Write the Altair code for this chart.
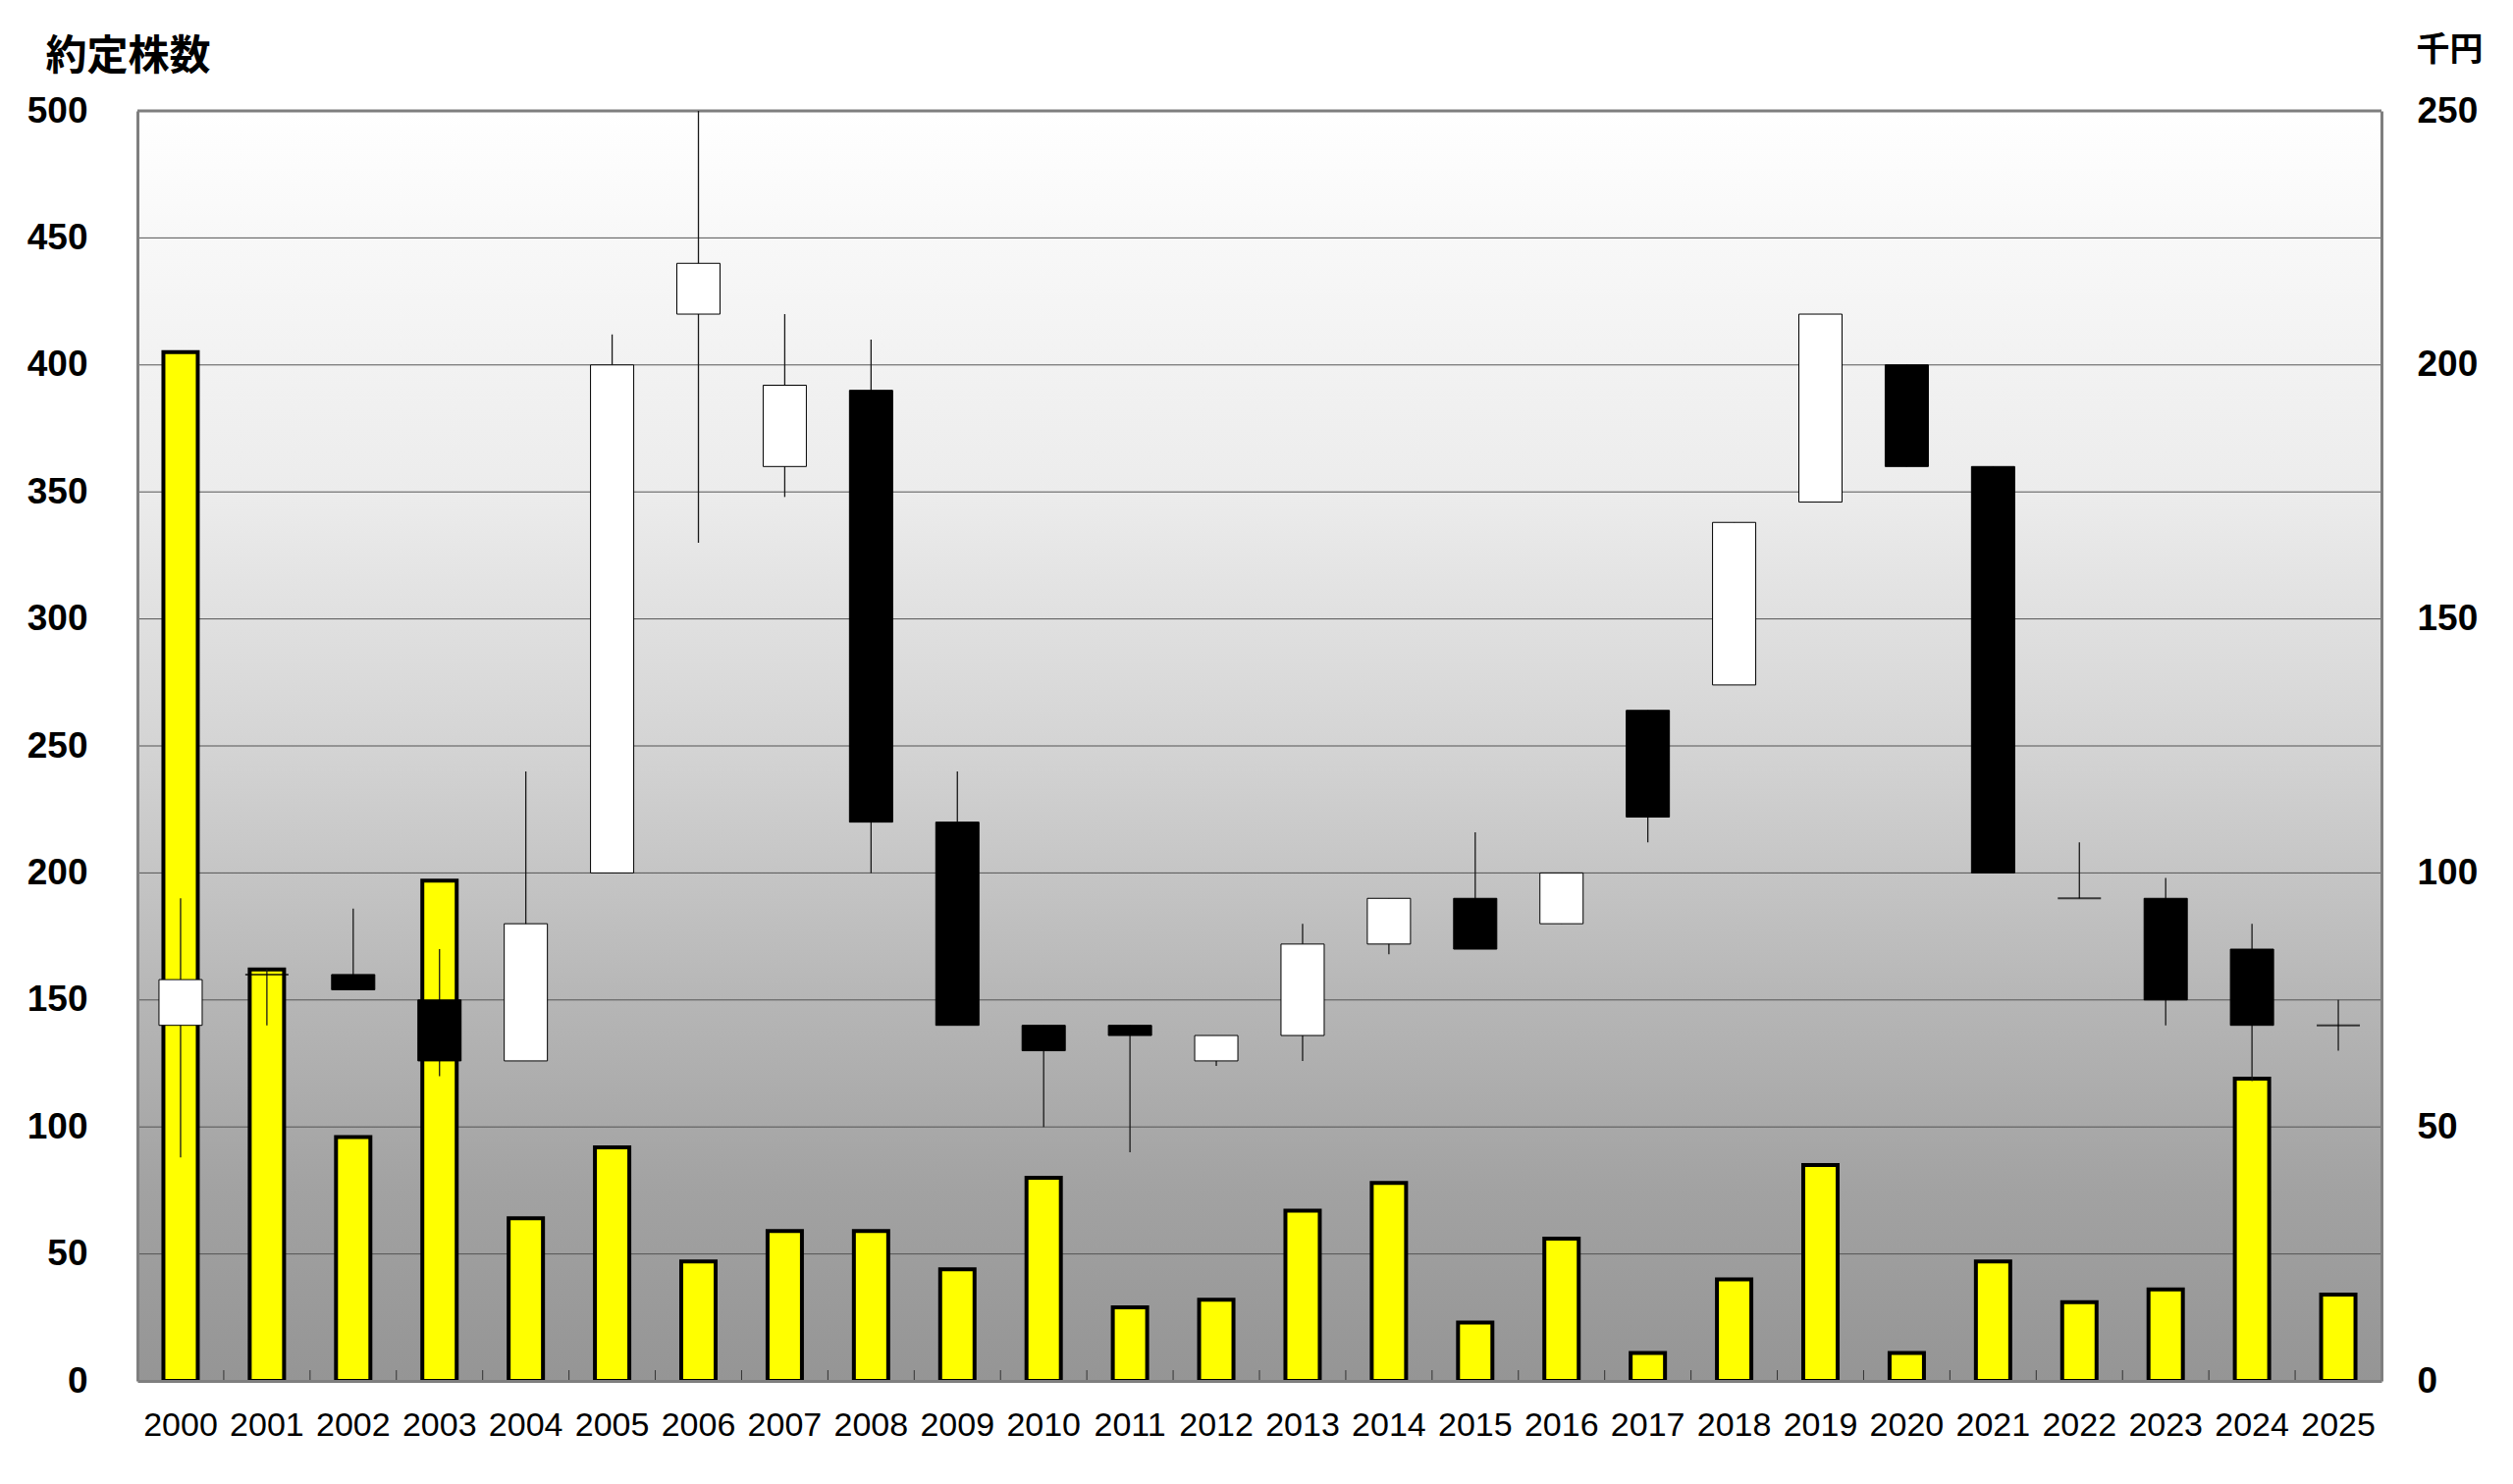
import altair as alt
import pandas as pd

# ---- data ----
years = [str(y) for y in range(2000, 2026)]
volume = [405, 162, 96, 197, 64, 92, 47, 59, 59, 44, 80, 29, 32, 67, 78, 23, 56, 11, 40, 85, 11, 47, 31, 36, 119, 34]
open_p = [70, 80, 80, 75, 63, 100, 210, 180, 195, 110, 70, 70, 63, 68, 86, 95, 90, 132, 137, 173, 200, 180, 95, 95, 85, 70]
close_p = [79, 80, 77, 63, 90, 200, 220, 196, 110, 70, 65, 68, 68, 86, 95, 85, 100, 111, 169, 210, 180, 100, 95, 75, 70, 70]
high_p = [95, 81, 93, 85, 120, 206, 250, 210, 205, 120, 70, 70, 68, 90, 95, 108, 100, 132, 169, 210, 200, 180, 106, 99, 90, 75]
low_p = [44, 70, 77, 60, 63, 100, 165, 174, 100, 70, 50, 45, 62, 63, 84, 85, 90, 106, 137, 173, 180, 100, 95, 70, 59, 65]
vol_ticks = list(range(0, 501, 50))
price_ticks = list(range(0, 251, 50))
grid_values = [50, 100, 150, 200, 250, 300, 350, 400, 450]
top_value = [500]

df = pd.DataFrame({"year": years, "volume": volume, "open": open_p,
                   "close": close_p, "high": high_p, "low": low_p})

W, H = 2286, 1294

vscale = alt.Scale(domain=[0, 500], nice=False, zero=True)
pscale = alt.Scale(domain=[0, 250], nice=False, zero=True)
xscale = alt.Scale(domain=years, paddingInner=0, paddingOuter=0)

x_axis = alt.Axis(orient="bottom", labelAngle=0, labelFont="Liberation Sans",
                  labelFontSize=34, labelColor="black", labelPadding=28,
                  ticks=False, domainColor="#7f7f7f", domainWidth=3, grid=False,
                  zindex=1)


def xenc(**kw):
    return alt.X("year:O", scale=xscale, axis=x_axis, title=None, **kw)


left_axis = alt.Axis(orient="left", values=vol_ticks, grid=False, ticks=False,
                     labelPadding=51, labelFont="Liberation Sans", labelFontSize=37,
                     labelFontWeight="bold", labelColor="black", labelFlush=False,
                     labelOverlap=False, domainColor="#7f7f7f", domainWidth=3,
                     titleAngle=0, titleX=-94, titleY=-43,
                     titleAlign="left", titleBaseline="alphabetic",
                     titleFont="Noto Sans CJK JP", titleFontSize=42,
                     titleFontWeight="bold", titleColor="black", zindex=1)

right_axis = alt.Axis(orient="right", values=price_ticks, grid=False, ticks=False,
                      labelPadding=36, labelFont="Liberation Sans", labelFontSize=37,
                      labelFontWeight="bold", labelColor="black", labelFlush=False,
                      labelOverlap=False, domainColor="#7f7f7f", domainWidth=3,
                      titleAngle=0, titleX=35, titleY=-52,
                      titleAlign="left", titleBaseline="alphabetic",
                      titleFont="Noto Sans CJK JP", titleFontSize=34,
                      titleFontWeight="bold", titleColor="black", zindex=1)

gradient = alt.LinearGradient(
    gradient="linear", x1=0, x2=0, y1=0, y2=1,
    stops=[alt.GradientStop(color="#ffffff", offset=0),
           alt.GradientStop(color="#f8f8f8", offset=0.1),
           alt.GradientStop(color="#ececec", offset=0.3),
           alt.GradientStop(color="#d4d4d4", offset=0.5),
           alt.GradientStop(color="#b6b6b6", offset=0.7),
           alt.GradientStop(color="#a2a2a2", offset=0.85),
           alt.GradientStop(color="#959595", offset=1)])

bg = alt.Chart(pd.DataFrame({"a": [0]})).mark_rect(color=gradient).encode(
    x=alt.value(0), x2=alt.value(W), y=alt.value(0), y2=alt.value(H))

grid = alt.Chart(pd.DataFrame({"v": grid_values})).mark_rule(
    color="#555555", strokeWidth=1).encode(
    y=alt.Y("v:Q", scale=vscale, axis=None))

top_border = alt.Chart(pd.DataFrame({"v": top_value})).mark_rule(
    color="#7f7f7f", strokeWidth=3).encode(
    y=alt.Y("v:Q", scale=vscale, axis=None))

bars = alt.Chart(df).mark_bar(color="#ffff00", stroke="black", strokeWidth=4,
                              width=35).encode(
    x=xenc(),
    y=alt.Y("volume:Q", scale=vscale, axis=left_axis, title="約定株数"))

xticks = alt.Chart(df).transform_filter('datum.year != "2000"').mark_rule(
    color="#333333", strokeWidth=1).encode(
    x=xenc(bandPosition=0),
    y=alt.value(H - 11), y2=alt.value(H))

wicks = alt.Chart(df).mark_rule(color="#1a1a1a", strokeWidth=1.3).encode(
    x=xenc(),
    y=alt.Y("low:Q", scale=pscale, axis=right_axis, title="千円"),
    y2="high:Q")

bodies = alt.Chart(df).transform_filter("datum.open != datum.close").mark_bar(
    stroke="black", strokeWidth=1, width=44).encode(
    x=xenc(),
    y=alt.Y("open:Q", scale=pscale, axis=None),
    y2="close:Q",
    color=alt.condition("datum.close > datum.open", alt.value("white"), alt.value("black")))

dojis = alt.Chart(df).transform_filter("datum.open == datum.close").mark_tick(
    color="black", thickness=2, size=44).encode(
    x=xenc(),
    y=alt.Y("open:Q", scale=pscale, axis=None))

chart = alt.layer(bg, grid, top_border, bars, xticks, wicks, bodies, dojis).resolve_scale(
    y="independent").properties(
    width=W, height=H,
    padding={"left": 132, "top": 105, "right": 126, "bottom": 97},
    autosize=alt.AutoSizeParams(type="none"),
    background="white",
).configure_view(stroke="transparent")

chart.save("out.html", embed_options={"renderer": "svg", "actions": False})
